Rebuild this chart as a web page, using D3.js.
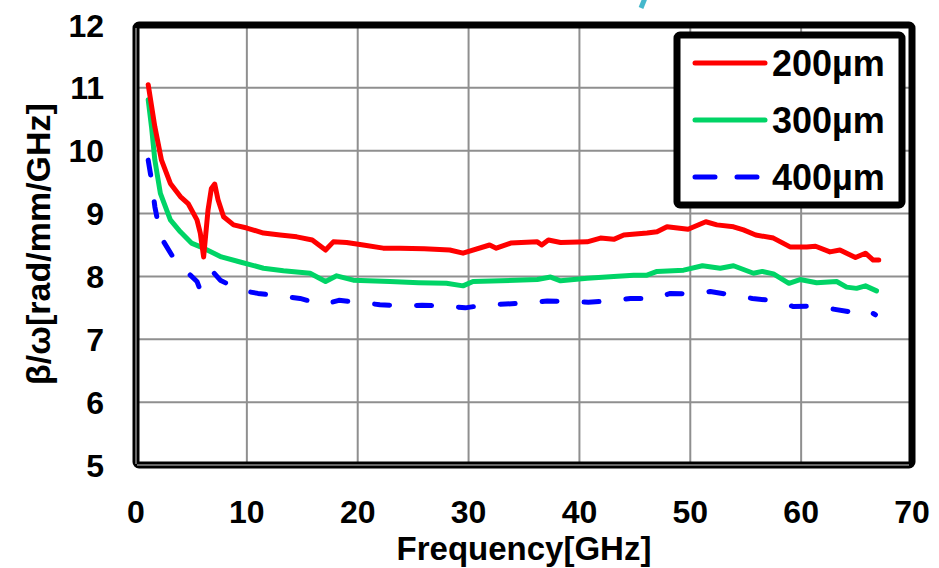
<!DOCTYPE html>
<html lang="en">
<head>
  <meta charset="UTF-8" />
  <title>Beta/omega vs frequency</title>
  <script src="https://d3js.org/d3.v7.min.js"></script>
  <style>
    html, body {
      margin: 0;
      padding: 0;
      background: #fff;
    }
    svg {
      display: block;
      font-family: "Liberation Sans", Arial, sans-serif;
      font-weight: bold;
    }
  </style>
</head>
<body>
  <svg id="chart" width="939" height="568"></svg>

  <script>
    // ---------------------------------------------------------
    // Data
    // ---------------------------------------------------------
    const xTicks = [0, 10, 20, 30, 40, 50, 60, 70];
    const yTicks = [5, 6, 7, 8, 9, 10, 11, 12];
    const seriesNames = ["200\u00b5m", "300\u00b5m", "400\u00b5m"];

    const freq200 = [1.1, 1.7, 2.3, 3.1, 4.0, 4.7, 5.5, 5.8, 6.1, 6.5, 6.8, 7.1, 7.4, 7.9, 8.8, 10.0,
      11.5, 13.0, 14.5, 15.9, 17.1, 17.8, 19.0, 20.5, 22.3, 23.8, 26.0, 28.3, 29.5, 31.9, 32.5, 33.8,
      36.2, 36.6, 37.2, 38.3, 40.7, 41.9, 43.1, 44.0, 46.1, 47.0, 47.9, 49.8, 51.4, 52.4, 53.9, 54.8,
      55.9, 57.5, 59.0, 60.5, 61.3, 62.6, 63.5, 64.9, 65.8, 66.5, 67.0];
    const beta200 = [11.05, 10.38, 9.85, 9.48, 9.27, 9.16, 8.90, 8.69, 8.31, 9.06, 9.40, 9.47, 9.22, 8.95, 8.82, 8.77,
      8.69, 8.66, 8.63, 8.58, 8.42, 8.55, 8.54, 8.50, 8.45, 8.45, 8.44, 8.42, 8.37, 8.50, 8.45, 8.53,
      8.55, 8.50, 8.58, 8.54, 8.55, 8.61, 8.59, 8.66, 8.69, 8.71, 8.79, 8.75, 8.87, 8.82, 8.79, 8.74,
      8.66, 8.61, 8.47, 8.47, 8.48, 8.39, 8.42, 8.30, 8.37, 8.26, 8.26];

    const freq300 = [1.1, 1.4, 1.7, 2.2, 3.1, 4.0, 5.0, 6.1, 7.7, 9.4, 11.5, 13.3, 15.7, 17.1, 18.1, 19.6,
      22.9, 25.5, 28.0, 29.5, 30.4, 32.9, 36.2, 37.4, 38.3, 40.7, 43.1, 44.9, 46.1, 47.0, 49.4, 51.1,
      52.7, 53.9, 55.7, 56.5, 57.5, 58.9, 59.9, 61.4, 63.2, 64.1, 65.0, 65.8, 66.8];
    const beta300 = [10.81, 10.38, 9.85, 9.32, 8.90, 8.71, 8.53, 8.45, 8.31, 8.23, 8.13, 8.09, 8.05, 7.92, 8.01, 7.94,
      7.92, 7.90, 7.89, 7.85, 7.92, 7.93, 7.95, 7.99, 7.93, 7.97, 8.00, 8.02, 8.02, 8.08, 8.10, 8.17,
      8.13, 8.17, 8.05, 8.08, 8.04, 7.89, 7.95, 7.90, 7.92, 7.83, 7.81, 7.85, 7.77];

    const freq400 = [1.1, 1.4, 1.7, 2.0, 2.5, 3.4, 4.9, 5.5, 5.8, 6.5, 7.0, 7.6, 9.4, 11.0, 13.3, 14.8,
      16.9, 18.3, 20.5, 22.0, 24.1, 25.8, 28.0, 29.7, 31.6, 33.3, 35.6, 37.1, 39.2, 40.8, 42.8, 44.6,
      46.7, 48.2, 50.1, 51.8, 53.9, 55.6, 57.7, 59.3, 61.3, 62.9, 65.0, 65.9, 66.7];
    const beta400 = [9.85, 9.53, 9.11, 8.84, 8.55, 8.29, 8.02, 7.92, 7.78, 7.97, 8.06, 7.94, 7.78, 7.73, 7.68, 7.65,
      7.55, 7.62, 7.58, 7.55, 7.53, 7.54, 7.53, 7.50, 7.55, 7.56, 7.58, 7.61, 7.60, 7.59, 7.61, 7.65,
      7.65, 7.73, 7.72, 7.76, 7.70, 7.65, 7.61, 7.52, 7.53, 7.48, 7.42, 7.47, 7.39];

    const seriesColors = ["#ff0000", "#00d466", "#0000ff"];
    const seriesDash = [null, null, "15,27"];

    // ---------------------------------------------------------
    // Layout & scales
    // ---------------------------------------------------------
    const svg = d3.select("#chart");
    const plot = { left: 136, right: 912, top: 25, bottom: 465 };

    const x = d3.scaleLinear().domain([0, 70]).range([plot.left, plot.right]);
    const y = d3.scaleLinear().domain([5, 12]).range([plot.bottom, plot.top]);

    // grid
    const grid = svg.append("g");
    grid.selectAll("line.v")
      .data(xTicks.slice(1, -1))
      .join("line")
      .attr("x1", d => x(d)).attr("x2", d => x(d))
      .attr("y1", plot.top).attr("y2", plot.bottom)
      .attr("stroke", "#8f8f8f").attr("stroke-width", 2);
    grid.selectAll("line.h")
      .data(yTicks.slice(1, -1))
      .join("line")
      .attr("x1", plot.left).attr("x2", plot.right)
      .attr("y1", d => y(d)).attr("y2", d => y(d))
      .attr("stroke", "#8f8f8f").attr("stroke-width", 2);

    // series
    const series = [
      { name: seriesNames[0], fx: freq200, vy: beta200 },
      { name: seriesNames[1], fx: freq300, vy: beta300 },
      { name: seriesNames[2], fx: freq400, vy: beta400 }
    ];
    const line = d3.line().x(d => x(d[0])).y(d => y(d[1])).curve(d3.curveLinear);

    // draw blue first, red last (red sits on top)
    [2, 1, 0].forEach(i => {
      const s = series[i];
      svg.append("path")
        .datum(d3.zip(s.fx, s.vy))
        .attr("d", line)
        .attr("fill", "none")
        .attr("stroke", seriesColors[i])
        .attr("stroke-width", 5)
        .attr("stroke-linecap", "round")
        .attr("stroke-linejoin", "round")
        .attr("stroke-dasharray", seriesDash[i]);
    });

    // frame
    svg.append("rect")
      .attr("x", plot.left).attr("y", plot.top)
      .attr("width", plot.right - plot.left).attr("height", plot.bottom - plot.top)
      .attr("rx", 3)
      .attr("fill", "none").attr("stroke", "#000").attr("stroke-width", 7);
    svg.append("line")
      .attr("x1", plot.left).attr("x2", plot.left)
      .attr("y1", plot.top + 3).attr("y2", plot.bottom - 1)
      .attr("stroke", "#8a8a8a").attr("stroke-width", 1.5);
    svg.append("line")
      .attr("x1", plot.left + 1).attr("x2", plot.right - 3)
      .attr("y1", plot.bottom).attr("y2", plot.bottom)
      .attr("stroke", "#8a8a8a").attr("stroke-width", 1.5);

    // tick labels
    svg.append("g").selectAll("text")
      .data(yTicks)
      .join("text")
      .attr("x", 104)
      .attr("y", d => y(d))
      .attr("dy", "0.36em")
      .attr("text-anchor", "end")
      .attr("font-size", 32)
      .text(d => d);

    svg.append("g").selectAll("text")
      .data(xTicks)
      .join("text")
      .attr("x", d => x(d))
      .attr("y", 511)
      .attr("dy", "0.36em")
      .attr("text-anchor", "middle")
      .attr("font-size", 32)
      .text(d => d);

    // axis titles
    svg.append("text")
      .attr("x", (plot.left + plot.right) / 2)
      .attr("y", 560)
      .attr("text-anchor", "middle")
      .attr("font-size", 33)
      .text("Frequency[GHz]");

    svg.append("text")
      .attr("transform", "translate(50,244) rotate(-90)")
      .attr("text-anchor", "middle")
      .attr("font-size", 34)
      .text("\u03b2/\u03c9[rad/mm/GHz]");

    // legend
    const legend = svg.append("g");
    legend.append("rect")
      .attr("x", 677).attr("y", 35)
      .attr("width", 225).attr("height", 170)
      .attr("rx", 3)
      .attr("fill", "#fff").attr("stroke", "#000").attr("stroke-width", 7);

    const legendY = [63, 120, 177];
    seriesNames.forEach((name, i) => {
      legend.append("line")
        .attr("x1", 695).attr("x2", 765)
        .attr("y1", legendY[i]).attr("y2", legendY[i])
        .attr("stroke", seriesColors[i])
        .attr("stroke-width", 5)
        .attr("stroke-linecap", "round")
        .attr("stroke-dasharray", i === 2 ? "20,22" : null);
      legend.append("text")
        .attr("x", 772)
        .attr("y", legendY[i])
        .attr("dy", "0.36em")
        .attr("font-size", 36)
        .text(name);
    });

    // small cyan stroke cut off at the top edge
    svg.append("line")
      .attr("x1", 641).attr("y1", 8)
      .attr("x2", 645).attr("y2", -2)
      .attr("stroke", "#45b8cc").attr("stroke-width", 5);
  </script>
</body>
</html>
